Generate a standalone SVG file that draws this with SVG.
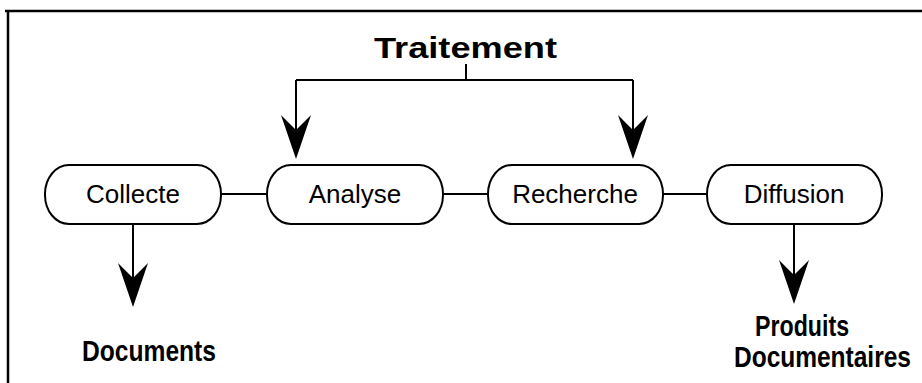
<svg xmlns="http://www.w3.org/2000/svg" width="922" height="383" viewBox="0 0 922 383">
<style>
.frame{fill:none;stroke:#000;stroke-width:2.5}
.pill{fill:#fff;stroke:#000;stroke-width:2}
.lbl{font-family:"Liberation Sans",Arial,sans-serif;font-size:26px;fill:#000;text-anchor:middle}
.big{font-family:"Liberation Sans",Arial,sans-serif;font-size:29px;font-weight:bold;fill:#000}
.ln{fill:none;stroke:#000;stroke-width:2}
</style>
<defs>
<marker id="ah" viewBox="-44 -17 50 34" refX="0" refY="0" markerWidth="50" markerHeight="34" markerUnits="userSpaceOnUse" orient="auto">
<path d="M4,0 L-40,-15 L-25,0 L-40,15 Z" fill="#000"/>
</marker>
</defs>
<rect width="922" height="383" fill="#fff"/>
<path class="frame" d="M5,11 H922 M8,11 V383"/>
<g id="traitement">
<text class="big" x="374" y="58" font-size="37" textLength="183" lengthAdjust="spacingAndGlyphs">Traitement</text>
</g>
<g id="connectors">
<path class="ln" d="M466,64 V80 M296,80 H633"/>
<path class="ln" d="M296,80 V155" marker-end="url(#ah)"/>
<path class="ln" d="M633,80 V155" marker-end="url(#ah)"/>
<path class="ln" d="M221,194 H267 M443,194 H488 M663,194 H707"/>
<path class="ln" d="M133,224 V303" marker-end="url(#ah)"/>
<path class="ln" d="M794,224 V300" marker-end="url(#ah)"/>
</g>
<g id="collecte">
<rect class="pill" x="45" y="165" width="176" height="59" rx="24" ry="29"/>
<text class="lbl" x="133" y="203">Collecte</text>
</g>
<g id="analyse">
<rect class="pill" x="267" y="165" width="176" height="59" rx="24" ry="29"/>
<text class="lbl" x="355" y="203">Analyse</text>
</g>
<g id="recherche">
<rect class="pill" x="488" y="165" width="175" height="59" rx="24" ry="29"/>
<text class="lbl" x="575" y="203">Recherche</text>
</g>
<g id="diffusion">
<rect class="pill" x="707" y="165" width="175" height="59" rx="24" ry="29"/>
<text class="lbl" x="794" y="203">Diffusion</text>
</g>
<g id="documents">
<text class="big" x="82" y="361" textLength="134" lengthAdjust="spacingAndGlyphs">Documents</text>
</g>
<g id="produits">
<text class="big" transform="translate(755,336) scale(0.8,1)">Produits</text>
<text class="big" transform="translate(734,367) scale(0.845,1)">Documentaires</text>
</g>
</svg>
